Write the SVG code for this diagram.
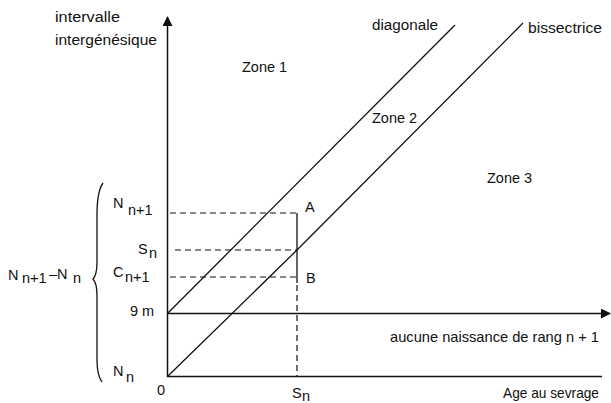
<svg xmlns="http://www.w3.org/2000/svg" width="611" height="403" viewBox="0 0 611 403">
<style>
text{font-family:"Liberation Sans",Arial,sans-serif;font-size:14.5px;fill:#111}
.big{font-size:15.5px}
.ax{stroke:#111;stroke-width:1.5;fill:none}
.ln{stroke:#111;stroke-width:1.3;fill:none}
.ds{stroke:#111;stroke-width:1.2;fill:none;stroke-dasharray:6,4}
</style>
<defs>
<marker id="ah" markerWidth="10" markerHeight="10" refX="9" refY="5" orient="auto" markerUnits="userSpaceOnUse">
<path d="M0,0 L10,5 L0,10 Z" fill="#111"/>
</marker>
</defs>
<g id="connectors">
<line id="y-axis" class="ax" x1="167.5" y1="377" x2="167.5" y2="17" marker-end="url(#ah)"/>
<line id="x-axis" class="ax" x1="167" y1="376.5" x2="602" y2="376.5"/>
<line id="line-9m" class="ax" x1="167" y1="313.5" x2="610" y2="313.5" marker-end="url(#ah)"/>
<line id="diagonale" class="ln" x1="168" y1="313" x2="455" y2="25"/>
<polyline id="bissectrice" class="ln" points="168,376 297,250 523,23"/>
<line class="ds" x1="170" y1="213" x2="297" y2="213"/>
<line class="ds" x1="175" y1="250" x2="297" y2="250"/>
<line class="ds" x1="170" y1="277" x2="297" y2="277"/>
<line class="ln" x1="297" y1="213" x2="297" y2="283"/>
<line class="ds" x1="297" y1="285" x2="297" y2="376"/>
<path id="brace" class="ln" stroke-width="1.6" d="M103,183 C98,190 97,200 97,215 L97,262 C97,272 95,277 93,279 C95,281 97,286 97,296 L97,360 C97,372 99,378 102,382"/>
</g>
<g id="labels">
<text class="big" x="55" y="22" textLength="65" lengthAdjust="spacingAndGlyphs">intervalle</text>
<text class="big" x="55" y="45" textLength="102" lengthAdjust="spacingAndGlyphs">intergénésique</text>
<text class="big" x="372" y="30" textLength="66" lengthAdjust="spacingAndGlyphs">diagonale</text>
<text class="big" x="528" y="33" textLength="74" lengthAdjust="spacingAndGlyphs">bissectrice</text>
<text x="242" y="72">Zone 1</text>
<text x="372" y="123">Zone 2</text>
<text x="487" y="183">Zone 3</text>
<text x="305" y="212">A</text>
<text x="306" y="283">B</text>
<text x="113" y="208">N<tspan x="128" y="215">n+1</tspan></text>
<text x="138" y="254">S<tspan x="149" y="258">n</tspan></text>
<text x="113" y="277">C<tspan x="125" y="282">n+1</tspan></text>
<text x="8" y="280">N<tspan x="22" y="283">n+1</tspan><tspan x="49" y="279">–N</tspan><tspan x="73" y="283">n</tspan></text>
<text x="130" y="316">9 m</text>
<text x="113" y="376">N<tspan x="126" y="382">n</tspan></text>
<text x="157" y="395">0</text>
<text x="292" y="398">S<tspan x="302" y="401">n</tspan></text>
<text x="390" y="342" textLength="209" lengthAdjust="spacingAndGlyphs">aucune naissance de rang n + 1</text>
<text x="503" y="398" textLength="96" lengthAdjust="spacingAndGlyphs">Age au sevrage</text>
</g>
</svg>
